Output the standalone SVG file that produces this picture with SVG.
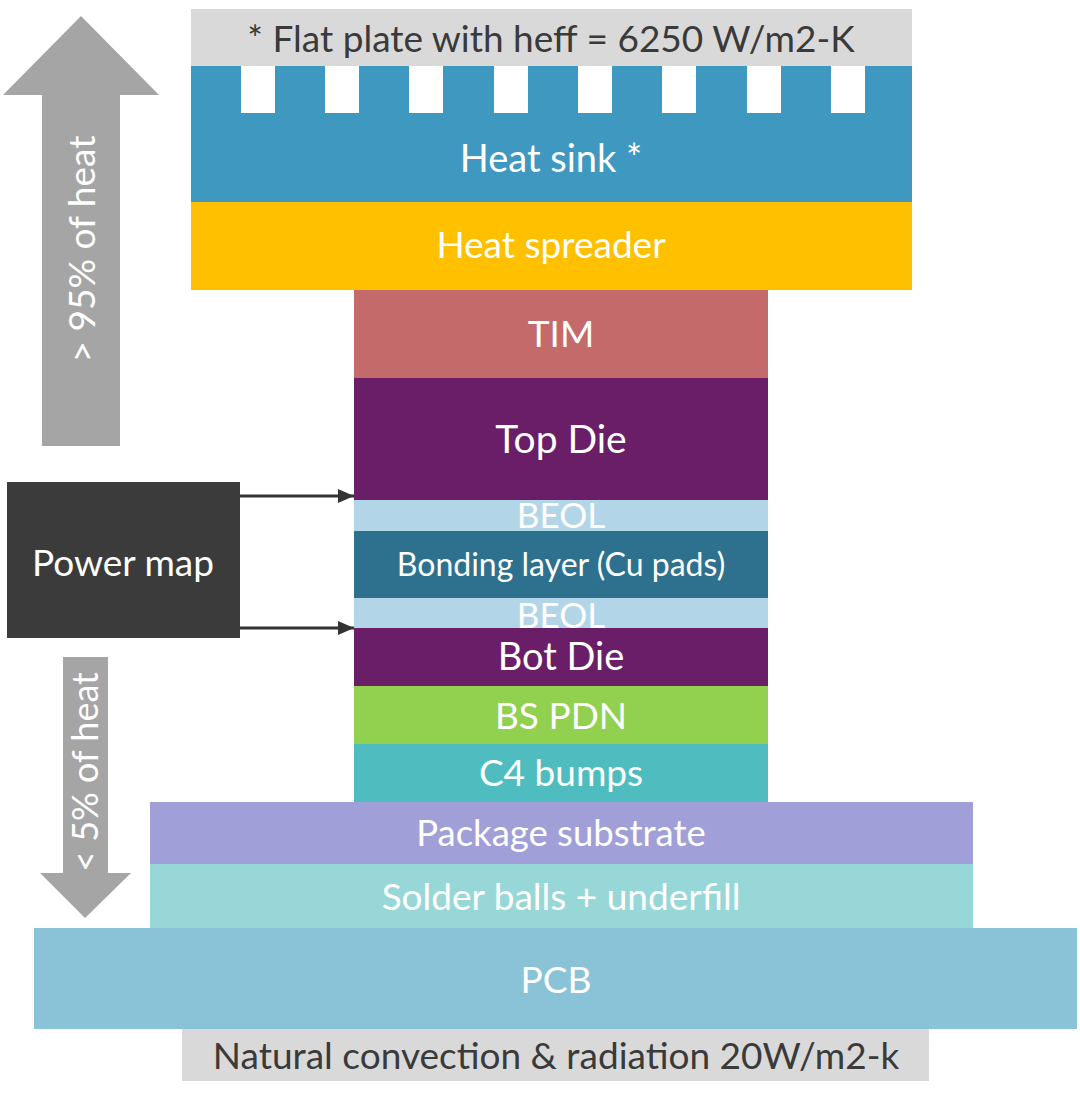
<svg xmlns="http://www.w3.org/2000/svg" width="1080" height="1105" viewBox="0 0 1080 1105">
<defs>
<style>
text{font-family:Lato,"Open Sans","Liberation Sans",sans-serif;text-anchor:middle}
.w{fill:#ffffff}
.d{fill:#3a3a3a}
.big{font-size:37px}
.rot{fill:#ffffff}
</style>
<marker id="ah" viewBox="0 0 16 14" refX="16" refY="7" markerWidth="16" markerHeight="14" markerUnits="userSpaceOnUse" orient="auto">
<path d="M0,0 L16,7 L0,14 z" fill="#333333"/>
</marker>
</defs>
<rect width="1080" height="1105" fill="#ffffff"/>

<g id="top-boundary">
<rect x="191" y="9" width="721" height="57" fill="#d9d9d9"/>
<text class="d" x="551" y="52" font-size="37">* Flat plate with heff = 6250 W/m2-K</text>
</g>

<g id="fins">
<rect x="191" y="66" width="721" height="48" fill="#3f98c0"/>
<g fill="#ffffff">
<rect x="241" y="66" width="34" height="47"/>
<rect x="325" y="66" width="34" height="47"/>
<rect x="409" y="66" width="34" height="47"/>
<rect x="494" y="66" width="34" height="47"/>
<rect x="578" y="66" width="34" height="47"/>
<rect x="662" y="66" width="34" height="47"/>
<rect x="747" y="66" width="34" height="47"/>
<rect x="831" y="66" width="34" height="47"/>
</g>
</g>

<g id="heat-sink">
<rect x="191" y="113" width="721" height="89" fill="#3f98c0"/>
<text class="w" x="551" y="172" font-size="38">Heat sink *</text>
</g>

<g id="heat-spreader">
<rect x="191" y="202" width="721" height="88" fill="#ffc000"/>
<text class="w big" x="551" y="258">Heat spreader</text>
</g>

<g id="tim">
<rect x="354" y="290" width="414" height="88" fill="#c46a6a"/>
<text class="w big" x="561" y="347">TIM</text>
</g>

<g id="top-die">
<rect x="354" y="378" width="414" height="122" fill="#6b1e68"/>
<text class="w" x="561" y="453" font-size="39">Top Die</text>
</g>

<g id="beol-top">
<rect x="354" y="500" width="414" height="31" fill="#b2d6e8"/>
<text class="w" x="561" y="528" font-size="35">BEOL</text>
</g>

<g id="bonding-layer">
<rect x="354" y="531" width="414" height="67" fill="#2e718e"/>
<text class="w" x="561" y="576" font-size="32">Bonding layer (Cu pads)</text>
</g>

<g id="beol-bot">
<rect x="354" y="598" width="414" height="30" fill="#b2d6e8"/>
<text class="w" x="561" y="628" font-size="35">BEOL</text>
</g>

<g id="bot-die">
<rect x="354" y="628" width="414" height="58" fill="#6b1e68"/>
<text class="w" x="561" y="670" font-size="38">Bot Die</text>
</g>

<g id="bs-pdn">
<rect x="354" y="686" width="414" height="58" fill="#92d050"/>
<text class="w big" x="561" y="729">BS PDN</text>
</g>

<g id="c4-bumps">
<rect x="354" y="744" width="414" height="58" fill="#4fbdc0"/>
<text class="w big" x="561" y="786">C4 bumps</text>
</g>

<g id="package-substrate">
<rect x="150" y="802" width="823" height="62" fill="#a09fd7"/>
<text class="w" x="561" y="846" font-size="36.5">Package substrate</text>
</g>

<g id="solder-balls">
<rect x="150" y="864" width="823" height="64" fill="#98d7d8"/>
<text class="w big" x="561" y="910">Solder balls + underfill</text>
</g>

<g id="pcb">
<rect x="34" y="928" width="1043" height="101" fill="#8ac3d8"/>
<text class="w big" x="556" y="993">PCB</text>
</g>

<g id="bottom-boundary">
<rect x="182" y="1029" width="747" height="52" fill="#d9d9d9"/>
<text class="d" x="556" y="1069" font-size="37">Natural convection &amp; radiation 20W/m2-k</text>
</g>

<g id="up-arrow">
<path d="M42,446 L42,95 L3,95 L81,16 L159,95 L120,95 L120,446 Z" fill="#a5a5a5"/>
<text class="rot" font-size="37" transform="translate(95,249) rotate(-90)">&gt; 95% of heat</text>
</g>

<g id="down-arrow">
<path d="M63,657 L108,657 L108,873 L131,873 L85,918 L40,873 L63,873 Z" fill="#a5a5a5"/>
<text class="rot" font-size="36" transform="translate(98,772) rotate(-90)">&lt; 5% of heat</text>
</g>

<g id="power-map">
<rect x="7" y="482" width="233" height="156" fill="#3b3b3b"/>
<text class="w" x="123" y="576" font-size="37">Power map</text>
</g>

<g id="connectors" stroke="#333333" stroke-width="3" fill="none">
<line x1="240" y1="496" x2="354" y2="496" marker-end="url(#ah)"/>
<line x1="240" y1="628" x2="354" y2="628" marker-end="url(#ah)"/>
</g>
</svg>
